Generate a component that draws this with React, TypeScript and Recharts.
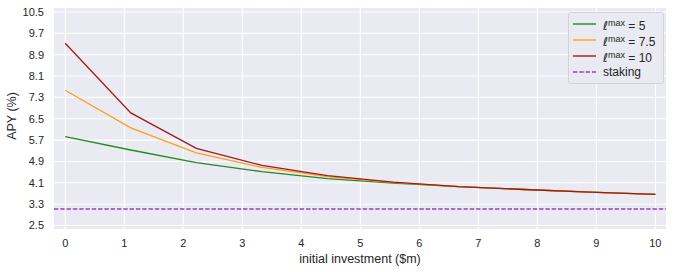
import React from 'react';
import { LineChart, Line, XAxis, YAxis, CartesianGrid, ReferenceLine } from 'recharts';

const INVESTMENT = [0, 1.111, 2.222, 3.333, 4.444, 5.556, 6.667, 7.778, 8.889, 10];
const APY_L5 = [5.83, 5.33, 4.86, 4.52, 4.26, 4.09, 3.96, 3.85, 3.75, 3.67];
const APY_L75 = [7.57, 6.16, 5.22, 4.68, 4.33, 4.12, 3.96, 3.85, 3.75, 3.67];
const APY_L10 = [9.33, 6.72, 5.39, 4.75, 4.37, 4.13, 3.96, 3.85, 3.75, 3.67];
const STAKING = 3.12;

const X_TICKS = [0, 1, 2, 3, 4, 5, 6, 7, 8, 9, 10];
const Y_TICKS = [2.5, 3.3, 4.1, 4.9, 5.7, 6.5, 7.3, 8.1, 8.9, 9.7, 10.5];

const SERIES = [
  { key: 'l5', label: '5', color: '#228b22' },
  { key: 'l75', label: '7.5', color: '#ff9f1a' },
  { key: 'l10', label: '10', color: '#a11a1a' },
];
const STAKING_COLOR = '#9a3fc4';

const FONT = '"Liberation Sans", Arial, sans-serif';
const TEXT = '#262626';

const data = INVESTMENT.map((x, i) => ({
  x,
  l5: APY_L5[i],
  l75: APY_L75[i],
  l10: APY_L10[i],
}));

function LegendBox() {
  const row = (color: string, dashed: boolean, content: React.ReactNode, i: number) => (
    <div key={i} style={{ display: 'flex', alignItems: 'center', height: 16 }}>
      <svg width={24} height={10} style={{ marginRight: 6 }}>
        <line x1={0} y1={5} x2={23} y2={5} stroke={color} strokeWidth={1.4}
          strokeDasharray={dashed ? '4.4 1.9' : undefined} />
      </svg>
      <span style={{ fontSize: 12, color: TEXT, fontFamily: FONT, lineHeight: '16px', whiteSpace: 'nowrap' }}>{content}</span>
    </div>
  );
  return (
    <div style={{
      position: 'absolute', left: 568, top: 12,
      background: '#eaeaf2', border: '1px solid #d2d2d8', borderRadius: 3,
      padding: '3px 4px 3px 4px', width: 86, boxSizing: 'content-box',
    }}>
      {SERIES.map((s, i) => row(s.color, false, (
        <>
          <span style={{ fontFamily: '"DejaVu Sans"', fontStyle: 'italic' }}>ℓ</span>
          <sup style={{ fontSize: 9, verticalAlign: 4 }}>max</sup>
          {' = '}{s.label}
        </>
      ), i))}
      {row(STAKING_COLOR, true, 'staking', 3)}
    </div>
  );
}

export default function App() {
  return (
    <div style={{ position: 'absolute', left: 0, top: 0, width: 675, height: 272, background: '#fff' }}>
      <LineChart width={675} height={272} data={data} margin={{ top: 8, right: 9, left: 0, bottom: 0 }}>
        <CartesianGrid fill="#eaeaf2" stroke="#ffffff" strokeWidth={1.1} horizontalValues={Y_TICKS} verticalValues={X_TICKS} />
        <XAxis
          dataKey="x" type="number" domain={[-0.19, 10.18]} ticks={X_TICKS} interval={0}
          axisLine={false} tickLine={false} tickSize={0} tickMargin={10} height={43}
          tick={{ fill: TEXT, fontSize: 11, fontFamily: FONT }}
          label={{
            content: () => (
              <text x={360} y={263} textAnchor="middle" fill={TEXT} fontSize={12.5} fontFamily={FONT}>
                initial investment ($m)
              </text>
            ),
          }}
        />
        <YAxis
          type="number" domain={[2.37, 10.65]} ticks={Y_TICKS} interval={0} width={54}
          axisLine={false} tickLine={false} tickSize={0} tickMargin={10}
          tick={{ fill: TEXT, fontSize: 11, fontFamily: FONT }}
          label={{
            content: () => (
              <text x={16} y={116} transform="rotate(-90 16 116)" textAnchor="middle" fill={TEXT} fontSize={12.5} fontFamily={FONT}>
                APY (%)
              </text>
            ),
          }}
        />
        {SERIES.map(s => (
          <Line key={s.key} dataKey={s.key} type="linear" stroke={s.color} strokeWidth={1.3}
            dot={false} activeDot={false} isAnimationActive={false} />
        ))}
        <ReferenceLine y={STAKING} stroke={STAKING_COLOR} strokeWidth={1.3} strokeDasharray="4.4 1.9" />
      </LineChart>
      <LegendBox />
    </div>
  );
}
